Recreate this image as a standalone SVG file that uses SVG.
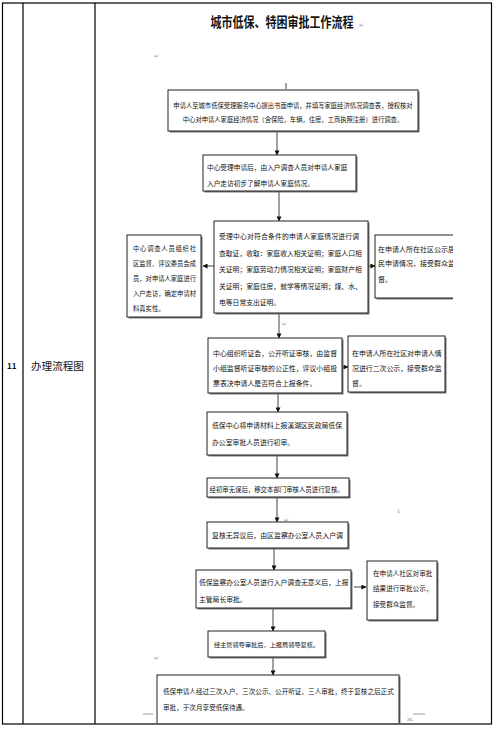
<svg xmlns="http://www.w3.org/2000/svg" width="496" height="730" viewBox="0 0 496 730">
<defs>
<style>
.t{font-family:"Noto Sans CJK SC","Noto Sans",sans-serif;fill:#111}
.box{fill:#fff;stroke:#222;stroke-width:1}
.sh{fill:#777}
.ln{stroke:#111;stroke-width:0.8;fill:none}
.pm{font-family:"DejaVu Sans",sans-serif;font-size:6px;fill:#999}
.grid{stroke:#000;stroke-width:1.2;fill:none}
</style>
<marker id="ah" viewBox="0 0 6 6" refX="5.5" refY="3" markerWidth="5" markerHeight="5" orient="auto" markerUnits="userSpaceOnUse">
<path d="M0,0 L6,3 L0,6 Z" fill="#111"/>
</marker>
<clipPath id="rb1clip"><rect x="370" y="230" width="83" height="75"/></clipPath>
<clipPath id="b10clip"><rect x="150" y="670" width="260" height="53"/></clipPath>
</defs>
<rect x="0" y="0" width="496" height="730" fill="#fff"/>
<g id="table">
<rect class="grid" x="2.5" y="3" width="489" height="721"/>
<line class="grid" x1="23" y1="3" x2="23" y2="724"/>
<line class="grid" x1="95" y1="3" x2="95" y2="724"/>
<text class="t" x="7" y="369" font-size="8" font-weight="bold">11</text>
<text class="t" x="31" y="370" font-size="10.6">办理流程图</text>
</g>
<g id="title">
<text class="t" x="282" y="27" font-size="11" font-weight="bold" text-anchor="middle" transform="translate(0,-6) scale(1,1.22)">城市低保、特困审批工作流程</text>
<text class="pm" x="359" y="27">↵</text>
<text class="pm" x="154" y="58">↵</text>
</g>
<g id="connectors">
<line class="ln" x1="286" y1="83" x2="286" y2="89"/>
<line class="ln" x1="277" y1="130" x2="277" y2="155" marker-end="url(#ah)"/>
<line class="ln" x1="279" y1="192" x2="279" y2="221" marker-end="url(#ah)"/>
<line class="ln" x1="214" y1="266" x2="203" y2="266" marker-end="url(#ah)"/>
<line class="ln" x1="369" y1="266" x2="375" y2="266" marker-end="url(#ah)"/>
<line class="ln" x1="279" y1="313" x2="279" y2="338" marker-end="url(#ah)"/>
<line class="ln" x1="342" y1="367" x2="348" y2="367" marker-end="url(#ah)"/>
<line class="ln" x1="278" y1="393" x2="278" y2="412" marker-end="url(#ah)"/>
<line class="ln" x1="277" y1="455" x2="277" y2="478" marker-end="url(#ah)"/>
<line class="ln" x1="277" y1="497" x2="277" y2="522" marker-end="url(#ah)"/>
<line class="ln" x1="274" y1="549" x2="274" y2="570" marker-end="url(#ah)"/>
<line class="ln" x1="354" y1="587" x2="366" y2="587" marker-end="url(#ah)"/>
<line class="ln" x1="273" y1="608" x2="273" y2="631" marker-end="url(#ah)"/>
<line class="ln" x1="273" y1="657" x2="273" y2="675" marker-end="url(#ah)"/>
</g>
<g id="marks">
<text class="pm" x="282" y="326">↵</text>
<text class="pm" x="284" y="522">↵</text>
<text class="pm" x="154" y="660">↵</text>
<text class="pm" x="396" y="513">↓</text>
<line x1="143" y1="714" x2="153" y2="714" stroke="#555" stroke-width="0.6"/>
<line x1="413" y1="714" x2="425" y2="714" stroke="#555" stroke-width="0.6"/>
<text x="407" y="721" font-family="Liberation Serif,serif" font-size="5" fill="#555">26.</text>
</g>
<g id="n1">
<rect class="sh" x="169.5" y="91.5" width="250" height="41"/>
<rect class="box" x="168" y="90" width="250" height="41"/>
<text class="t" font-size="6.3" text-anchor="middle"><tspan x="293" y="107.5">申请人至城市低保受理服务中心提出书面申请，并填写家庭经济情况调查表，授权核对</tspan><tspan x="293" y="121.5">中心对申请人家庭经济情况（含保险，车辆，住房，工商执照注册）进行调查。</tspan></text>
</g>
<g id="n2">
<rect class="sh" x="204.5" y="156.5" width="153" height="36"/>
<rect class="box" x="203" y="155" width="153" height="36"/>
<text class="t" font-size="6.7"><tspan x="207" y="169.5">中心受理申请后，由入户调查人员对申请人家庭</tspan><tspan x="207" y="185.5">入户走访初步了解申请人家庭情况。</tspan></text>
</g>
<g id="n3">
<rect class="sh" x="215.5" y="222.5" width="154" height="92"/>
<rect class="box" x="214" y="221" width="154" height="92"/>
<text class="t" font-size="6.8"><tspan x="219" y="239" textLength="140" lengthAdjust="spacing">受理中心对符合条件的申请人家庭情况进行调</tspan><tspan x="219" y="255.5">查取证，收取：家庭收入相关证明；家庭人口相</tspan><tspan x="219" y="272">关证明；家庭劳动力情况相关证明；家庭财产相</tspan><tspan x="219" y="288.5">关证明；家庭住房，就学等情况证明；煤、水、</tspan><tspan x="219" y="305">电等日常支出证明。</tspan></text>
</g>
<g id="n3left">
<rect class="sh" x="128.5" y="236.5" width="74" height="82"/>
<rect class="box" x="127" y="235" width="74" height="82"/>
<text class="t" font-size="6.3"><tspan x="133" y="250.5" textLength="63" lengthAdjust="spacing">中心调查人员组织社</tspan><tspan x="133" y="265.5">区监督、评议委员会成</tspan><tspan x="133" y="280.5">员，对申请人家庭进行</tspan><tspan x="133" y="295.5">入户走访，确定申请材</tspan><tspan x="133" y="310.5">料真实性。</tspan></text>
</g>
<g id="n3right">
<g clip-path="url(#rb1clip)">
<rect class="sh" x="376.5" y="236.5" width="90" height="63"/>
<rect class="box" x="375" y="235" width="90" height="63"/>
<text class="t" font-size="7"><tspan x="378" y="251.5">在申请人所在社区公示居</tspan><tspan x="378" y="266">民申请情况，接受群众监</tspan><tspan x="378" y="281.5">督。</tspan></text>
</g>
</g>
<g id="n4">
<rect class="sh" x="209.5" y="339.5" width="134" height="55"/>
<rect class="box" x="208" y="338" width="134" height="55"/>
<text class="t" font-size="6.9"><tspan x="213" y="355.5">中心组织听证会，公开听证审核，由监督</tspan><tspan x="213" y="370.5">小组监督听证审核的公正性，评议小组投</tspan><tspan x="213" y="385.5">票表决申请人是否符合上报条件。</tspan></text>
</g>
<g id="n4right">
<rect class="sh" x="349.5" y="337.5" width="97" height="56"/>
<rect class="box" x="348" y="336" width="97" height="56"/>
<text class="t" font-size="6.9"><tspan x="352" y="355.5">在申请人所在社区对申请人情</tspan><tspan x="352" y="370.5">况进行二次公示，接受群众监</tspan><tspan x="352" y="385.5">督。</tspan></text>
</g>
<g id="n5">
<rect class="sh" x="208.5" y="413.5" width="140" height="43"/>
<rect class="box" x="207" y="412" width="140" height="43"/>
<text class="t" font-size="6.85"><tspan x="212" y="427.5">低保中心将申请材料上报溪湖区民政局低保</tspan><tspan x="212" y="444.5">办公室审批人员进行初审。</tspan></text>
</g>
<g id="n6">
<rect class="sh" x="208.5" y="479.5" width="142" height="19"/>
<rect class="box" x="207" y="478" width="142" height="19"/>
<text class="t" font-size="6.4" x="209.5" y="492">经初审无误后，移交本部门审核人员进行复核。</text>
</g>
<g id="n7">
<rect class="sh" x="208.5" y="523.5" width="141" height="26"/>
<rect class="box" x="207" y="522" width="141" height="26"/>
<text class="t" font-size="6.9" x="212" y="538">复核无异议后，由区监察办公室人员入户调</text>
</g>
<g id="n8">
<rect class="sh" x="197.5" y="571.5" width="155" height="38"/>
<rect class="box" x="196" y="570" width="155" height="38"/>
<text class="t" font-size="6.8"><tspan x="199" y="584.5">低保监察办公室人员进行入户调查无意义后，上报</tspan><tspan x="199" y="601.5">主管局长审批。</tspan></text>
</g>
<g id="n8right">
<rect class="sh" x="368.5" y="562.5" width="70" height="59"/>
<rect class="box" x="367" y="561" width="70" height="59"/>
<text class="t" font-size="6.6"><tspan x="373" y="575.5">在申请人社区对审批</tspan><tspan x="373" y="590.5">结果进行审批公示，</tspan><tspan x="373" y="606.5">接受群众监督。</tspan></text>
</g>
<g id="n9">
<rect class="sh" x="209.5" y="632.5" width="117" height="26"/>
<rect class="box" x="208" y="631" width="117" height="26"/>
<text class="t" font-size="6.2" x="214" y="647">经主管领导审批后，上报局领导复核。</text>
</g>
<g id="n10">
<g clip-path="url(#b10clip)">
<rect class="sh" x="158.5" y="676.5" width="242" height="60"/>
<rect class="box" x="157" y="675" width="242" height="60"/>
</g>
<text class="t" font-size="6.6"><tspan x="163" y="693.5">低保申请人经过三次入户、三次公示、公开听证、三人审批，终于复核之后正式</tspan><tspan x="163" y="709.5">审批，于次月享受低保待遇。</tspan></text>
</g>
</svg>
